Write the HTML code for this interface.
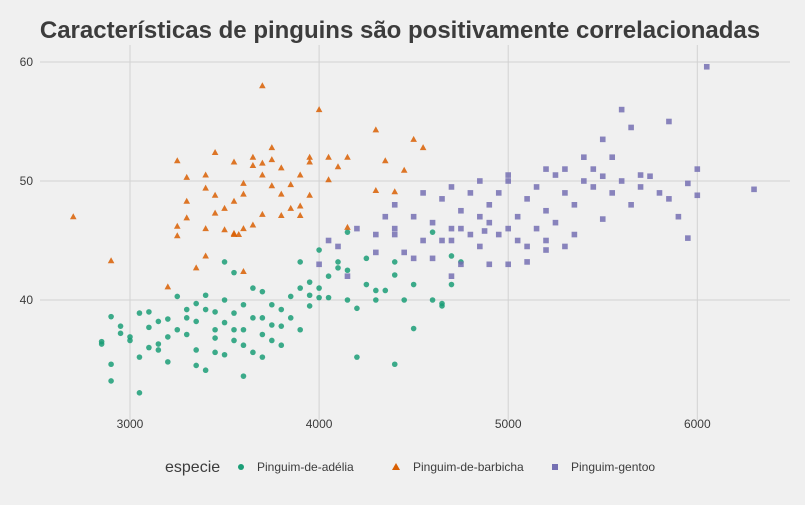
<!DOCTYPE html>
<html><head><meta charset="utf-8"><style>
body{margin:0;background:#f0f0f0;}
svg{display:block;font-family:"Liberation Sans",sans-serif;}
</style></head><body>
<svg id="chart" width="805" height="505">
<rect width="805" height="505" fill="#f0f0f0"/>
<text x="400" y="38" text-anchor="middle" font-size="24" font-weight="bold" fill="#3c3c3c">Características de pinguins são positivamente correlacionadas</text>
<g id="grid"></g><g id="marks"></g>
<g>
<text x="165" y="472" font-size="16" fill="#3c3c3c">especie</text>
<circle cx="241" cy="467" r="3" fill="#1b9e77"/>
<text x="257" y="471" font-size="12" fill="#3c3c3c">Pinguim-de-adélia</text>
<polygon points="396,463 400,470 392,470" fill="#d95f02"/>
<text x="413" y="471" font-size="12" fill="#3c3c3c">Pinguim-de-barbicha</text>
<rect x="552" y="464" width="6" height="6" fill="#7570b3"/>
<text x="571" y="471" font-size="12" fill="#3c3c3c">Pinguim-gentoo</text>
</g>
</svg>
<script>
const xTicks=[3000,4000,5000,6000];
const yTicks=[40,50,60];
const adelia=[[2850,36.5],[2850,36.3],[2900,38.6],[2900,34.6],[2900,33.2],[2950,37.8],[2950,37.2],[3000,36.9],[3000,36.6],[3050,38.9],[3050,32.2],[3050,35.2],[3100,37.7],[3100,36.0],[3100,39.0],[3150,36.3],[3150,35.8],[3150,38.2],[3200,38.4],[3200,36.9],[3200,34.8],[3250,40.3],[3250,37.5],[3300,39.2],[3300,37.1],[3350,34.5],[3350,39.7],[3350,38.2],[3350,35.8],[3400,40.4],[3400,34.1],[3400,39.2],[3450,37.5],[3450,35.6],[3450,36.8],[3500,40.0],[3500,38.1],[3500,43.2],[3500,35.4],[3550,38.9],[3550,36.6],[3550,37.5],[3550,42.3],[3600,33.6],[3600,39.6],[3600,37.5],[3650,41.0],[3650,35.6],[3650,38.5],[3700,40.7],[3700,37.1],[3700,35.2],[3750,39.6],[3750,36.6],[3750,37.9],[3800,39.2],[3800,36.2],[3850,40.3],[3850,38.5],[3900,37.5],[3900,41.0],[3900,43.2],[3950,39.5],[3950,40.4],[3950,41.5],[4000,40.2],[4000,44.2],[4000,41.0],[4050,42.0],[4050,40.2],[4100,42.7],[4100,43.2],[4150,40.0],[4150,42.5],[4150,45.7],[4200,39.3],[4200,35.2],[4250,43.5],[4250,41.3],[4300,40.0],[4300,40.8],[4350,40.8],[4400,42.1],[4400,34.6],[4400,43.2],[4450,40.0],[4500,37.6],[4500,41.3],[4600,40.0],[4600,45.7],[4650,39.7],[4650,39.5],[4700,43.7],[4700,41.3],[4750,43.2],[3300,38.5],[3450,39.0],[3700,38.5],[3800,37.8],[3600,36.2]];
const barbicha=[[2700,47.0],[2900,43.3],[3200,41.1],[3250,51.7],[3250,46.2],[3250,45.4],[3300,50.3],[3300,46.9],[3300,48.3],[3350,42.7],[3400,50.5],[3400,49.4],[3400,46.0],[3400,43.7],[3450,52.4],[3450,48.8],[3450,47.3],[3500,47.7],[3500,45.9],[3550,45.6],[3550,45.5],[3550,51.6],[3575,45.5],[3550,48.3],[3600,42.4],[3600,49.8],[3600,46.0],[3600,48.9],[3650,52.0],[3650,51.3],[3650,46.3],[3700,58.0],[3700,51.5],[3700,50.5],[3750,49.6],[3700,47.2],[3750,51.8],[3750,52.8],[3800,51.1],[3800,47.1],[3800,48.9],[3850,47.7],[3850,49.7],[3900,47.1],[3900,50.5],[3900,47.9],[3950,51.6],[3950,52.0],[3950,48.8],[4000,56.0],[4050,52.0],[4050,50.1],[4100,51.2],[4150,52.0],[4150,46.1],[4300,54.3],[4300,49.2],[4350,51.7],[4400,49.1],[4450,50.9],[4500,53.5],[4550,52.8]];
const gentoo=[[4000,43],[4050,45],[4100,44.5],[4150,42],[4200,46],[4300,44],[4300,45.5],[4350,47],[4400,48],[4400,46],[4450,44],[4500,47],[4500,43.5],[4550,45],[4550,49],[4600,46.5],[4600,43.5],[4650,45],[4650,48.5],[4700,46],[4700,45],[4700,42],[4700,49.5],[4750,43],[4750,46],[4750,47.5],[4800,49],[4800,45.5],[4850,47],[4850,44.5],[4850,50],[4900,46.5],[4900,43],[4900,48],[4950,45.5],[4950,49],[5000,50.5],[5000,50],[5000,46],[5000,43],[5050,45],[5050,47],[5100,48.5],[5100,44.5],[5150,46],[5150,49.5],[5200,45],[5200,47.5],[5200,51],[5250,50.5],[5250,46.5],[5300,49],[5300,44.5],[5300,51],[5350,45.5],[5350,48],[5400,50],[5400,52],[5450,51],[5450,49.5],[5500,53.5],[5500,46.8],[5550,52],[5550,49],[5600,50],[5600,56],[5650,54.5],[5650,48],[5700,50.5],[5700,49.5],[5750,50.4],[5800,49],[5850,55],[5850,48.5],[5900,47],[5950,49.8],[5950,45.2],[6000,51],[6000,48.8],[6050,59.6],[6300,49.3],[5500,50.4],[5100,43.2],[5200,44.2],[4400,45.5],[4875,45.8]];
const NS="http://www.w3.org/2000/svg";
function sx(v){return 130+(v-3000)*0.1891;}
function sy(v){return 300-(v-40)*11.9;}
const grid=document.getElementById('grid'),marks=document.getElementById('marks');
function mk(tag,attrs,parent){const e=document.createElementNS(NS,tag);for(const k in attrs)e.setAttribute(k,attrs[k]);parent.appendChild(e);return e;}
xTicks.forEach(t=>{
  const l=mk('line',{x1:sx(t),x2:sx(t),y1:45,y2:420,stroke:'#d2d2d2','stroke-width':1},grid);
  
  
  const tx=mk('text',{x:sx(t),y:428,'text-anchor':'middle','font-size':12,fill:'#3c3c3c'},grid);
  tx.textContent=t;
  
  
});
yTicks.forEach(t=>{
  const l=mk('line',{x1:40,x2:790,y1:sy(t),y2:sy(t),stroke:'#d2d2d2','stroke-width':1},grid);
  
  
  const tx=mk('text',{x:33,y:sy(t)+4,'text-anchor':'end','font-size':12,fill:'#3c3c3c'},grid);
  tx.textContent=t;
  
  
});
adelia.forEach(d=>{
  const c=mk('circle',{cx:sx(d[0]),cy:sy(d[1]),r:2.8,fill:'#1b9e77','fill-opacity':0.85},marks);
  
  
});
barbicha.forEach(d=>{
  const x=sx(d[0]),y=sy(d[1]);
  const p=mk('polygon',{points:`${x},${y-3.5} ${x+3.3},${y+2.5} ${x-3.3},${y+2.5}`,fill:'#d95f02','fill-opacity':0.85},marks);
  
  
});
gentoo.forEach(d=>{
  const r=mk('rect',{x:sx(d[0])-2.8,y:sy(d[1])-2.8,width:5.6,height:5.6,fill:'#7570b3','fill-opacity':0.85},marks);
  
  
});
</script>
</body></html>
